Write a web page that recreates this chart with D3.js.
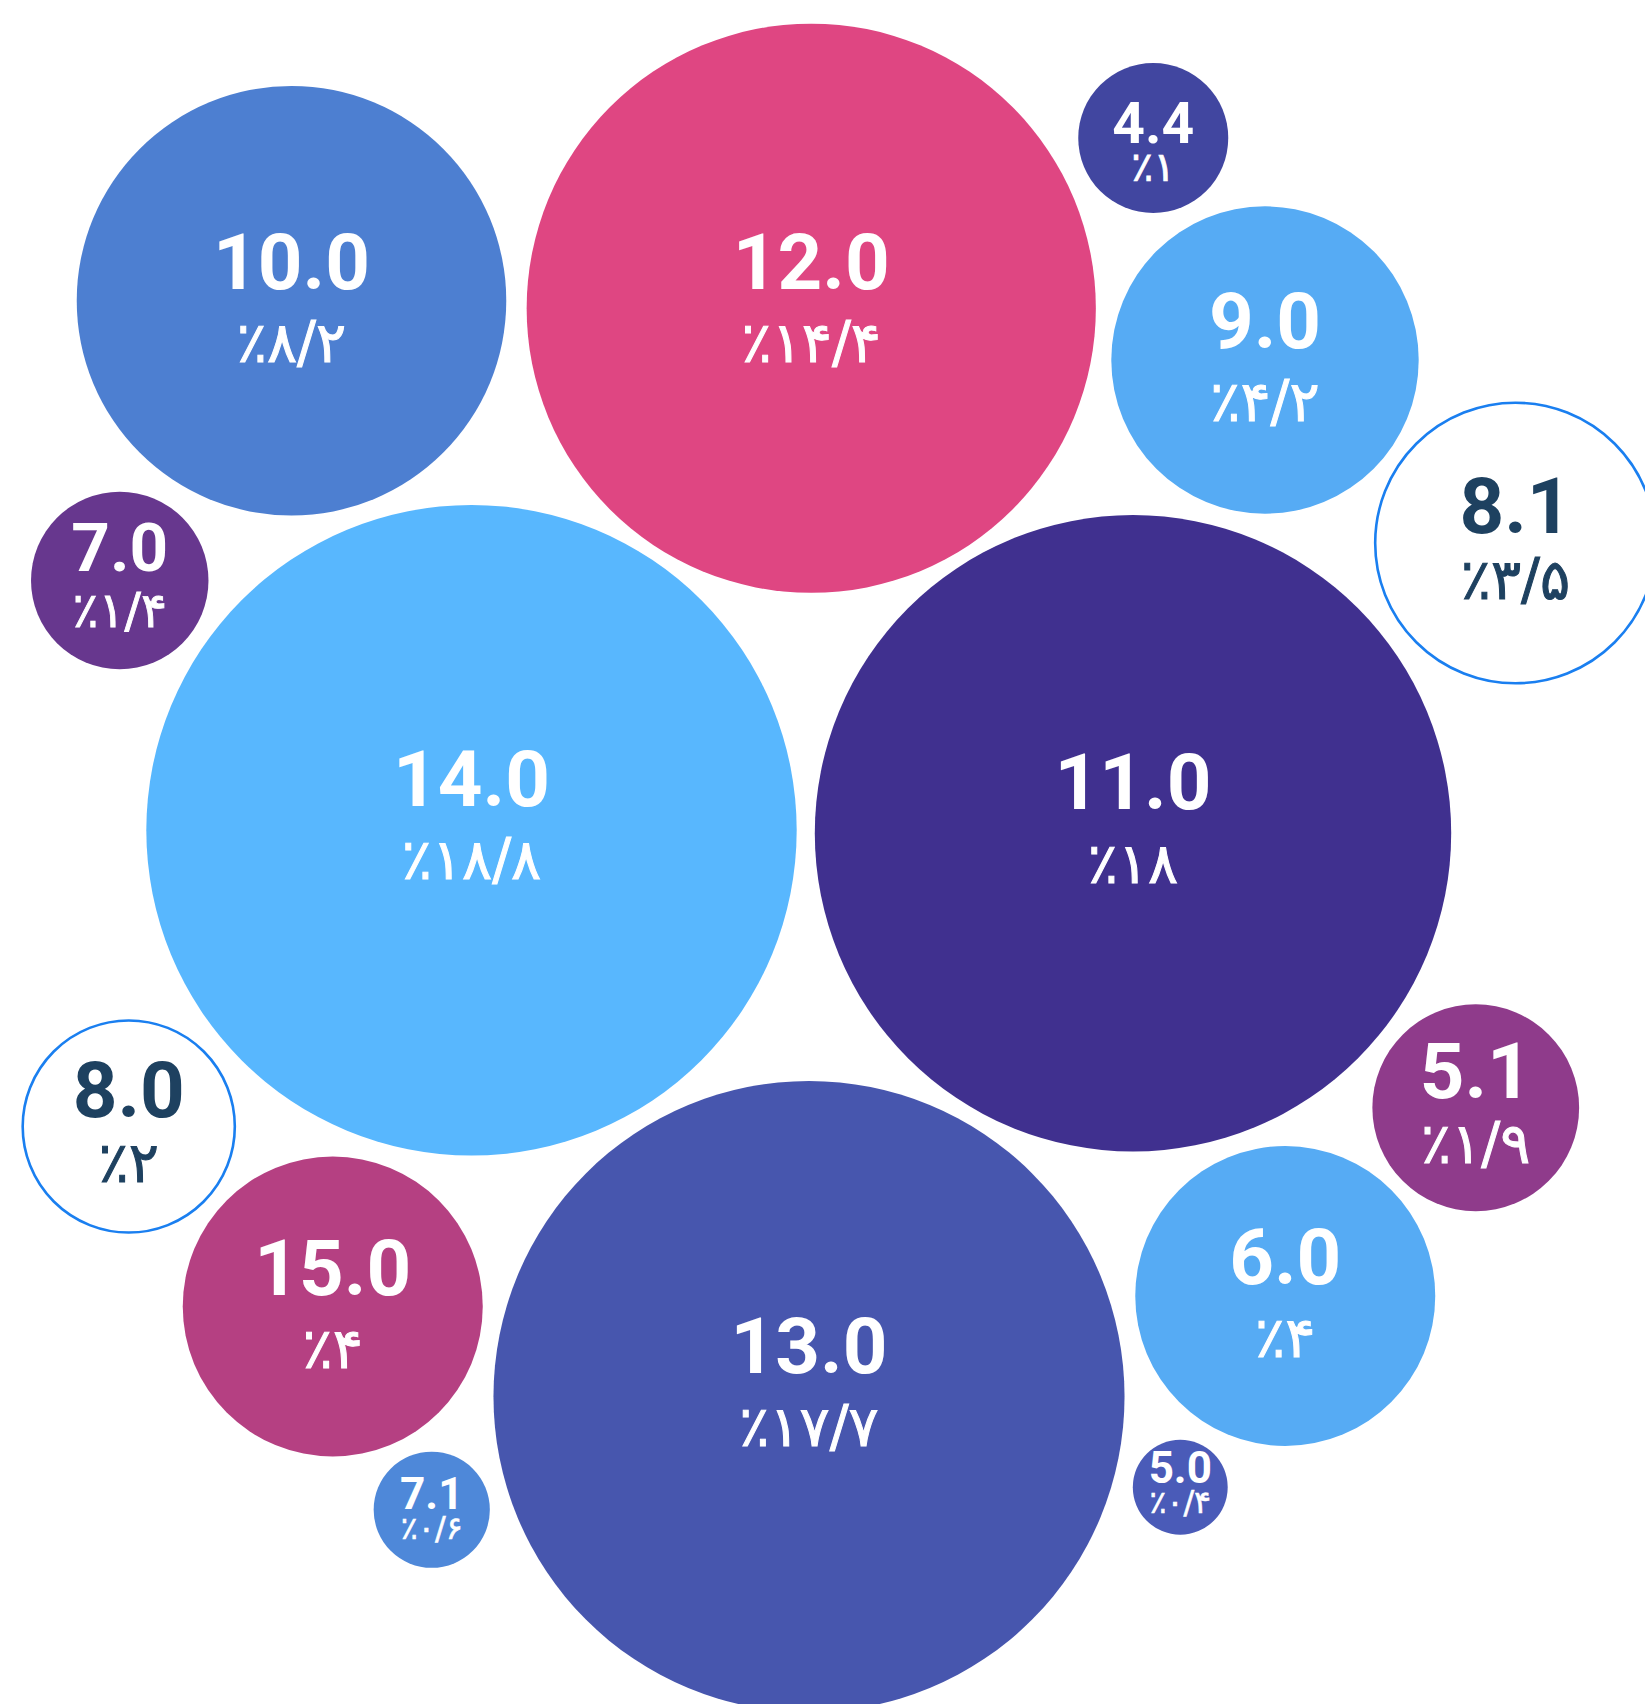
<!DOCTYPE html>
<html>
<head>
<meta charset="utf-8">
<script src="https://cdn.jsdelivr.net/npm/d3@7"></script>
<style>
  html, body { margin: 0; padding: 0; background: #ffffff; overflow: hidden; }
  svg { display: block; }
</style>
</head>
<body>
<div id="chart"></div>
<script>
// ---- data ----
const values  = [10.0, 12.0, 4.4, 9.0, 8.1, 7.0, 14.0, 11.0, 8.0, 5.1, 15.0, 13.0, 6.0, 7.1, 5.0];
const shares  = [8.2, 14.4, 1, 4.2, 3.5, 1.4, 18.8, 18, 2, 1.9, 4, 17.7, 4, 0.6, 0.4];
// bubble layout coordinates (data units, origin at the chart centre)
const layoutX = [-7.08, -0.15, 4.41, 5.90, 9.24, -9.37, -4.68, 4.14, -9.25, 8.71, -6.53, -0.18, 6.17, -5.21, 4.77];
const layoutY = [-7.35, -7.25, -9.52, -6.56, -4.12, -3.62, -0.29, -0.25, 3.66, 3.41, 6.06, 7.26, 5.92, 8.77, 8.47];
const outlined = [false, false, false, false, true, false, false, false, true, false, false, false, false, false, false];

// ---- styles ----
const palette = ["#4d7fd1", "#df4682", "#4146a0", "#56abf4", "#ffffff", "#67378e", "#58b7fe",
                 "#40308f", "#ffffff", "#8f3b8b", "#b54082", "#4756ae", "#56abf4", "#4e88d9", "#4a5bb8"];
const W = 1645, H = 1704;
const unit = 75;

const svg = d3.select("#chart").append("svg")
  .attr("width", W).attr("height", H)
  .attr("viewBox", `0 0 ${W} ${H}`);

const x = d3.scaleLinear().domain([-W / 2 / unit, W / 2 / unit]).range([0, W]);
const y = d3.scaleLinear().domain([-H / 2 / unit, H / 2 / unit]).range([0, H]);
const r = d3.scaleSqrt().domain([0, 1]).range([0, unit]);

const persianDigits = "۰۱۲۳۴۵۶۷۸۹";
const toPersian = s => s.replace(/[0-9]/g, d => persianDigits[+d]).replace(/\./g, "/");
const fmtVal = d3.format(".1f");

const data = values.map((v, i) => ({
  value: v, share: shares[i], lx: layoutX[i], ly: layoutY[i],
  outlined: outlined[i], color: palette[i]
}));

const g = svg.selectAll("g.bubble").data(data).join("g")
  .attr("class", "bubble")
  .attr("transform", d => `translate(${x(d.lx)},${y(d.ly)})`);

g.append("circle")
  .attr("r", d => r(d.share))
  .attr("fill", d => d.color)
  .attr("stroke", d => d.outlined ? "#1a7ff0" : "none")
  .attr("stroke-width", d => d.outlined ? 2.6 : 0);

g.each(function(d) {
  const rad = r(d.share);
  const fs = Math.max(44, Math.min(78, rad * 0.76));
  let a, gap;
  if (rad < 85) { a = (rad - 60) * 0.3; gap = fs * 0.67; }
  else if (rad < 140.5) { a = -10; gap = fs * 0.84; }
  else { a = -12 - Math.max(0, rad - 220) * 0.12; gap = fs * 0.94; }
  const secFs = fs * 0.72;
  const col = d.outlined ? "#1e4160" : "#ffffff";
  const sel = d3.select(this);
  sel.append("text")
    .attr("text-anchor", "middle")
    .attr("y", a)
    .attr("font-family", "Roboto, 'Noto Sans', sans-serif")
    .attr("font-weight", 700)
    .attr("font-size", fs)
    .attr("fill", col)
    .text(fmtVal(d.value));
  sel.append("text")
    .attr("text-anchor", "middle")
    .attr("direction", "ltr")
    .attr("y", a + gap)
    .attr("font-family", "'DejaVu Sans', sans-serif")
    .attr("font-weight", 400)
    .attr("letter-spacing", -1.5)
    .attr("font-size", secFs)
    .attr("fill", col)
    .attr("stroke", col)
    .attr("stroke-width", secFs * 0.018)
    .text("٪" + toPersian(String(d.share)));
});
</script>
</body>
</html>
